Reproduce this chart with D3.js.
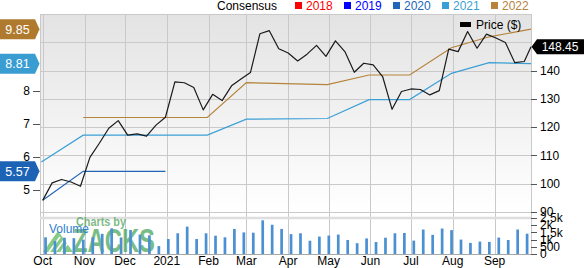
<!DOCTYPE html>
<html>
<head>
<meta charset="utf-8">
<script src="https://cdn.jsdelivr.net/npm/d3@7"></script>
<style>
  body { margin: 0; background: #fff; }
  svg { display: block; font-family: 'Liberation Sans', Arial, sans-serif; }
</style>
</head>
<body>
<div id="chart"></div>
<script>
// weekly closing price, first week starts 2020-10-01, last value is the current price
var priceStart = '2020-10-01';
var priceLastDate = '2021-09-28';
var prices = [94.1, 100.3, 101.5, 100.6, 99.1, 109.3, 114.3, 119.6, 122.3, 117.2,
  117.6, 116.8, 120.7, 123.5, 136.0, 135.7, 134.0, 126.1, 131.6, 129.4,
  134.6, 137.0, 139.3, 153.0, 154.1, 147.7, 146.2, 143.4, 145.8, 148.9,
  145.0, 150.5, 146.7, 139.4, 142.6, 142.0, 137.9, 126.3, 132.6, 133.5,
  133.3, 131.4, 132.9, 147.6, 146.7, 153.8, 147.9, 152.9, 151.5, 149.9,
  142.8, 143.2, 148.45];

// weekly volume (same weeks as prices)
var volumes = [1160, 900, 1130, 1100, 1000, 1160, 1400, 1780, 1150, 1670,
  1350, 1300, 550, 1040, 1440, 1900, 1040, 1440, 1270, 1160,
  1740, 1500, 1480, 2340, 2030, 1740, 1380, 1440, 920, 1210,
  1280, 1350, 970, 750, 1080, 830, 1130, 1440, 1460, 930,
  1700, 1330, 1770, 1660, 1000, 770, 860, 840, 1140, 970,
  1700, 1410, 460];

// consensus EPS estimates
var eps2020Dates = ['2020-10-01', '2020-10-31', '2020-12-31'];
var eps2020 = [4.7, 5.57, 5.57];
var eps2021Dates = ['2020-09-30', '2020-10-31', '2021-01-31', '2021-03-01', '2021-04-30',
  '2021-05-31', '2021-06-30', '2021-07-31', '2021-08-28', '2021-09-28'];
var eps2021 = [5.85, 6.66, 6.66, 7.14, 7.16, 7.73, 7.73, 8.52, 8.84, 8.81];
var eps2022Dates = ['2020-10-31', '2021-01-31', '2021-03-01', '2021-04-30', '2021-05-31',
  '2021-06-30', '2021-07-31', '2021-08-28', '2021-09-28'];
var eps2022 = [7.19, 7.19, 8.24, 8.18, 8.47, 8.47, 9.29, 9.62, 9.85];

var legendYears = ['2018', '2019', '2020', '2021', '2022'];
var legendColors = ['#ff0000', '#0000ff', '#2166b8', '#3a9fd6', '#b5833a'];

var priceTicks = [90, 100, 110, 120, 130, 140];
var epsTicks = [5, 6, 7, 8];
var volTicks = [0, 500, 1000, 1500, 2000, 2500];

var parse = d3.timeParse('%Y-%m-%d');
var t0 = parse(priceStart);
var priceDates = prices.map(function (p, i) {
  return i === prices.length - 1 ? parse(priceLastDate) : d3.timeDay.offset(t0, 7 * i);
});

var width = 584, height = 268;
var L = 40, R = 531, T = 14, B = 212, VT = 218, VB = 254;

var x = d3.scaleTime().domain([parse('2020-09-29'), parse('2021-09-28')]).range([L, R]);
var yPrice = d3.scaleLinear().domain([90, 160]).range([B, T]);
var yEps = d3.scaleLinear().domain([4.346, 10.306]).range([B, T]);
var yVol = d3.scaleLinear().domain([0, 2500]).range([VB, VT]);

var svg = d3.select('#chart').append('svg').attr('width', width).attr('height', height);

var defs = svg.append('defs');
var grad = defs.append('linearGradient').attr('id', 'bg').attr('x1', 0).attr('y1', 0).attr('x2', 0).attr('y2', 1);
grad.append('stop').attr('offset', '0%').attr('stop-color', '#e3e3e3');
grad.append('stop').attr('offset', '100%').attr('stop-color', '#ffffff');
defs.append('clipPath').attr('id', 'plotclip')
  .append('rect').attr('x', L).attr('y', T).attr('width', R - L).attr('height', VB - T);

svg.append('rect').attr('x', L).attr('y', T).attr('width', R - L).attr('height', B - T).attr('fill', 'url(#bg)');

// grid
var grid = svg.append('g').attr('stroke', '#c9c9c9').attr('stroke-width', 1);
grid.selectAll('.h').data(d3.range(90, 161, 10)).join('line')
  .attr('x1', L).attr('x2', R)
  .attr('y1', function (d) { return Math.round(yPrice(d)) + 0.5; })
  .attr('y2', function (d) { return Math.round(yPrice(d)) + 0.5; });
var months = d3.timeMonth.range(parse('2020-10-01'), parse('2021-09-02'));
grid.selectAll('.v').data(months).join('line')
  .attr('x1', function (d) { return Math.round(x(d)) + 0.5; })
  .attr('x2', function (d) { return Math.round(x(d)) + 0.5; })
  .attr('y1', T).attr('y2', VB);
grid.append('line').attr('x1', L + 0.5).attr('x2', L + 0.5).attr('y1', T).attr('y2', VB);
grid.append('line').attr('x1', R + 0.5).attr('x2', R + 0.5).attr('y1', T).attr('y2', VB);

// volume panel separator and base
svg.append('line').attr('x1', L).attr('x2', R).attr('y1', VT).attr('y2', VT)
  .attr('stroke', '#dedede').attr('stroke-width', 2.5);
svg.append('line').attr('x1', L).attr('x2', R).attr('y1', VB + 0.5).attr('y2', VB + 0.5)
  .attr('stroke', '#a8a8a8');

// zacks watermark
var wm = svg.append('g').attr('opacity', 0.7);
wm.append('path').attr('d', 'M43,252 L58,231 L73,252 Z').attr('fill', '#52b552');
wm.append('path').attr('d', 'M49,252 L60,237 M55,252 L64,240 M61,252 L68,243')
  .attr('stroke', '#fff').attr('stroke-width', 1.6);
wm.append('text').attr('x', 73).attr('y', 251.5).attr('font-size', 34).attr('font-weight', 'bold')
  .attr('textLength', 82).attr('lengthAdjust', 'spacingAndGlyphs')
  .attr('fill', '#43a152').text('ZACKS');
wm.append('text').attr('x', 76).attr('y', 226).attr('font-size', 12).attr('font-weight', 'bold')
  .attr('textLength', 50).attr('lengthAdjust', 'spacingAndGlyphs')
  .attr('fill', '#4a9f55').text('Charts by');

// volume bars
svg.append('g').attr('clip-path', 'url(#plotclip)')
  .selectAll('rect').data(volumes).join('rect')
  .attr('x', function (d, i) { return x(priceDates[i]) + 1.5; })
  .attr('width', 2.7)
  .attr('y', function (d) { return yVol(d); })
  .attr('height', function (d) { return VB - yVol(d); })
  .attr('fill', '#4a90d2');

svg.append('text').attr('x', 49).attr('y', 233).attr('font-size', 12).attr('fill', '#2f80d0').text('Volume');

// consensus lines
function epsLine(dates, vals, color) {
  var pts = dates.map(function (d, i) { return [x(parse(d)), yEps(vals[i])]; });
  svg.append('path').attr('d', d3.line()(pts)).attr('fill', 'none')
    .attr('stroke', color).attr('stroke-width', 1.2);
}
epsLine(eps2022Dates, eps2022, legendColors[4]);
epsLine(eps2021Dates, eps2021, legendColors[3]);
epsLine(eps2020Dates, eps2020, legendColors[2]);

// price line
svg.append('path')
  .attr('d', d3.line().x(function (d, i) { return x(priceDates[i]); }).y(function (d) { return yPrice(d); })(prices))
  .attr('fill', 'none').attr('stroke', '#1a1a1a').attr('stroke-width', 1.2).attr('stroke-linejoin', 'round');

// left axis (EPS)
var la = svg.append('g').attr('font-size', 12).attr('fill', '#000');
la.selectAll('line').data(epsTicks).join('line')
  .attr('x1', 33).attr('x2', 40)
  .attr('y1', function (d) { return Math.round(yEps(d)) + 0.5; })
  .attr('y2', function (d) { return Math.round(yEps(d)) + 0.5; })
  .attr('stroke', '#555');
la.selectAll('text').data(epsTicks).join('text')
  .attr('x', 30).attr('y', function (d) { return yEps(d); }).attr('dy', '0.35em')
  .attr('text-anchor', 'end').text(function (d) { return d; });

// right axis (price)
var ra = svg.append('g').attr('font-size', 12).attr('fill', '#000');
ra.selectAll('line').data(priceTicks).join('line')
  .attr('x1', R).attr('x2', R + 6)
  .attr('y1', function (d) { return Math.round(yPrice(d)) + 0.5; })
  .attr('y2', function (d) { return Math.round(yPrice(d)) + 0.5; })
  .attr('stroke', '#555');
ra.selectAll('text').data(priceTicks).join('text')
  .attr('x', 540).attr('y', function (d) { return yPrice(d); }).attr('dy', '0.35em')
  .text(function (d) { return d; });

// right axis (volume)
var va = svg.append('g').attr('font-size', 12).attr('fill', '#000');
va.selectAll('line').data(volTicks).join('line')
  .attr('x1', R).attr('x2', R + 6)
  .attr('y1', function (d) { return Math.round(yVol(d)) + 0.5; })
  .attr('y2', function (d) { return Math.round(yVol(d)) + 0.5; })
  .attr('stroke', '#555');
va.selectAll('text').data(volTicks).join('text')
  .attr('x', 540).attr('y', function (d) { return yVol(d); }).attr('dy', '0.35em')
  .text(function (d) { return d3.format('~s')(d); });

// month labels
svg.append('g').attr('font-size', 12).selectAll('text').data(months).join('text')
  .attr('x', function (d) { return x(d); }).attr('y', 265).attr('text-anchor', 'middle')
  .text(function (d) { return d.getMonth() === 0 ? d3.timeFormat('%Y')(d) : d3.timeFormat('%b')(d); });

// value tags on the left
function leftTag(v, color) {
  var cy = yEps(v);
  var g = svg.append('g');
  g.append('path').attr('d', 'M0,' + (cy - 10) + 'H35L39.5,' + cy + 'L35,' + (cy + 10) + 'H0Z').attr('fill', color);
  g.append('text').attr('x', 17.5).attr('y', cy).attr('dy', '0.36em').attr('text-anchor', 'middle')
    .attr('font-size', 12.5).attr('fill', '#fff').text(v.toFixed(2));
}
leftTag(eps2022[eps2022.length - 1], '#b07a2e');
leftTag(eps2021[eps2021.length - 1], '#3a9dd2');
leftTag(eps2020[eps2020.length - 1], '#1c63b5');

// current price tag
var lastPrice = prices[prices.length - 1];
var py = yPrice(lastPrice);
svg.append('path').attr('d', 'M531.5,' + py + 'L537,' + (py - 7.5) + 'H584V' + (py + 7.5) + 'H537Z').attr('fill', '#000');
svg.append('text').attr('x', 560).attr('y', py).attr('dy', '0.36em').attr('text-anchor', 'middle')
  .attr('font-size', 12).attr('fill', '#fff').text(lastPrice.toFixed(2));

// legends
svg.append('text').attr('x', 217).attr('y', 10).attr('font-size', 12).text('Consensus');
var lg = svg.append('g').selectAll('g').data(legendYears).join('g')
  .attr('transform', function (d, i) { return 'translate(' + (295 + i * 49) + ',0)'; });
lg.append('rect').attr('x', 0).attr('y', 2).attr('width', 7).attr('height', 7)
  .attr('fill', function (d, i) { return legendColors[i]; });
lg.append('text').attr('x', 11).attr('y', 10).attr('font-size', 12)
  .attr('fill', function (d, i) { return legendColors[i]; }).text(function (d) { return d; });

svg.append('rect').attr('x', 460).attr('y', 22).attr('width', 11).attr('height', 5).attr('fill', '#000');
svg.append('text').attr('x', 476).attr('y', 28.5).attr('font-size', 12).text('Price ($)');
</script>
</body>
</html>
